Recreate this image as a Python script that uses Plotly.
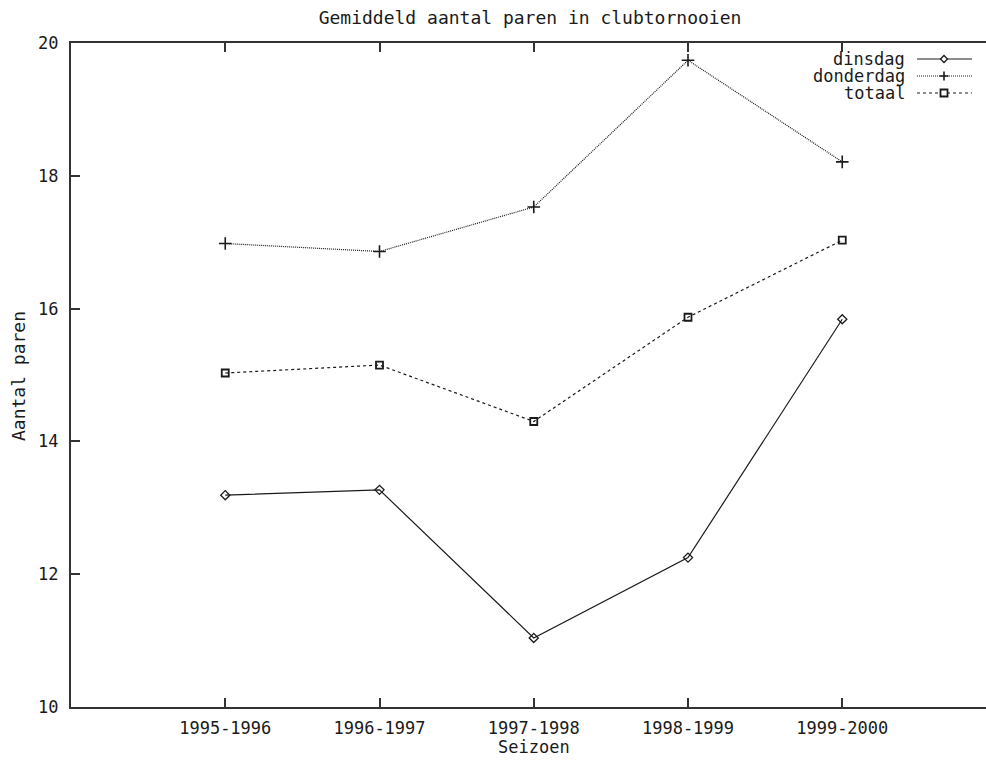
import plotly.graph_objects as go

# ---- data ----
seasons = ["1995-1996", "1996-1997", "1997-1998", "1998-1999", "1999-2000"]
dinsdag = [13.19, 13.27, 11.04, 12.25, 15.84]
donderdag = [16.98, 16.86, 17.53, 19.74, 18.21]
totaal = [15.03, 15.15, 14.30, 15.87, 17.03]
y_ticks = [10, 12, 14, 16, 18, 20]

FONT = "DejaVu Sans Mono"
INK = "#1a1a1a"
W, H = 986, 760
L, T, B, R = 71, 43, 53, 0
PW, PH = W - L - R, H - T - B

xpos = list(range(1, len(seasons) + 1))

fig = go.Figure()
fig.add_trace(go.Scatter(x=xpos, y=dinsdag, name="dinsdag", mode="lines+markers",
                         line=dict(color=INK, width=1.2),
                         marker=dict(symbol="diamond-open", size=7, color=INK, line=dict(width=1.3, color=INK))))
fig.add_trace(go.Scatter(x=xpos, y=donderdag, name="donderdag", mode="lines+markers",
                         line=dict(color=INK, width=1.2, dash="1px,1px"),
                         marker=dict(symbol="cross-thin-open", size=9, color=INK, line=dict(width=1.6, color=INK))))
fig.add_trace(go.Scatter(x=xpos, y=totaal, name="totaal", mode="lines+markers",
                         line=dict(color=INK, width=1.2, dash="3px,3px"),
                         marker=dict(symbol="square-open", size=7, color=INK, line=dict(width=1.8, color=INK))))


def px_x(p):
    return (p - L) / PW


def px_y(p):
    return (H - B - p) / PH


annotations = []
shapes = []
# custom gnuplot-style legend (text right, sample to the right)
legend_rows = [("dinsdag", 59, "solid", "diamond"),
               ("donderdag", 76, "1px,1px", "cross"),
               ("totaal", 93, "3px,3px", "square")]
for label, py, dash, mk in legend_rows:
    annotations.append(dict(text=label, x=px_x(907), y=px_y(py), xref="paper", yref="paper",
                            xanchor="right", yanchor="middle", showarrow=False,
                            font=dict(family=FONT, size=17, color=INK)))
    shapes.append(dict(type="line", xref="paper", yref="paper", x0=px_x(917), x1=px_x(972),
                       y0=px_y(py), y1=px_y(py), line=dict(color=INK, width=1.2, dash=dash)))
    cx, cy = px_x(944), px_y(py)
    if mk == "diamond":
        shapes.append(dict(type="path", xref="paper", yref="paper", xsizemode="pixel", ysizemode="pixel",
                           xanchor=cx, yanchor=cy, path="M -3.5 0 L 0 3.5 L 3.5 0 L 0 -3.5 Z",
                           line=dict(color=INK, width=1.3), fillcolor="white"))
    elif mk == "cross":
        shapes.append(dict(type="path", xref="paper", yref="paper", xsizemode="pixel", ysizemode="pixel",
                           xanchor=cx, yanchor=cy, path="M -4.5 0 L 4.5 0 M 0 -4.5 L 0 4.5",
                           line=dict(color=INK, width=1.6)))
    else:
        shapes.append(dict(type="path", xref="paper", yref="paper", xsizemode="pixel", ysizemode="pixel",
                           xanchor=cx, yanchor=cy, path="M -3.5 -3.5 L 3.5 -3.5 L 3.5 3.5 L -3.5 3.5 Z",
                           line=dict(color=INK, width=1.8), fillcolor="white"))

# axis titles
annotations.append(dict(text="Seizoen", x=3, y=px_y(747), xref="x", yref="paper",
                        xanchor="center", yanchor="middle", showarrow=False,
                        font=dict(family=FONT, size=17, color=INK)))
annotations.append(dict(text="Aantal paren", x=px_x(18), y=px_y(376), xref="paper", yref="paper",
                        xanchor="center", yanchor="middle", showarrow=False, textangle=-90,
                        font=dict(family=FONT, size=18, color=INK)))

fig.update_layout(
    width=W, height=H,
    margin=dict(l=L, r=R, t=T, b=B, autoexpand=False),
    paper_bgcolor="white", plot_bgcolor="white",
    showlegend=False,
    font=dict(family=FONT, size=17, color=INK),
    title=dict(text="Gemiddeld aantal paren in clubtornooien", x=530 / W, xanchor="center",
               y=1 - 18 / H, yanchor="middle", font=dict(family=FONT, size=18, color=INK)),
    annotations=annotations,
    shapes=shapes,
)
fig.update_xaxes(range=[0, (W - R - L) / ((841 - 224) / 4)], tickvals=xpos, ticktext=seasons,
                 automargin=False,
                 showgrid=False, zeroline=False, showline=True, linecolor="#333", linewidth=2,
                 mirror="ticks", ticks="inside", ticklen=9, tickcolor="#333", tickwidth=1.5,
                 ticklabelstandoff=5,
                 tickfont=dict(family=FONT, size=17, color=INK))
fig.update_yaxes(range=[10, 20], tickvals=y_ticks, showgrid=False, zeroline=False,
                 automargin=False,
                 showline=True, linecolor="#333", linewidth=2, mirror=False,
                 ticks="inside", ticklen=9, tickcolor="#333", tickwidth=1.5,
                 ticklabelstandoff=7,
                 tickfont=dict(family=FONT, size=17, color=INK))

fig.write_html("out.html", config={"displayModeBar": False},
               post_script="document.body.style.margin='0';document.body.style.overflow='hidden';")
